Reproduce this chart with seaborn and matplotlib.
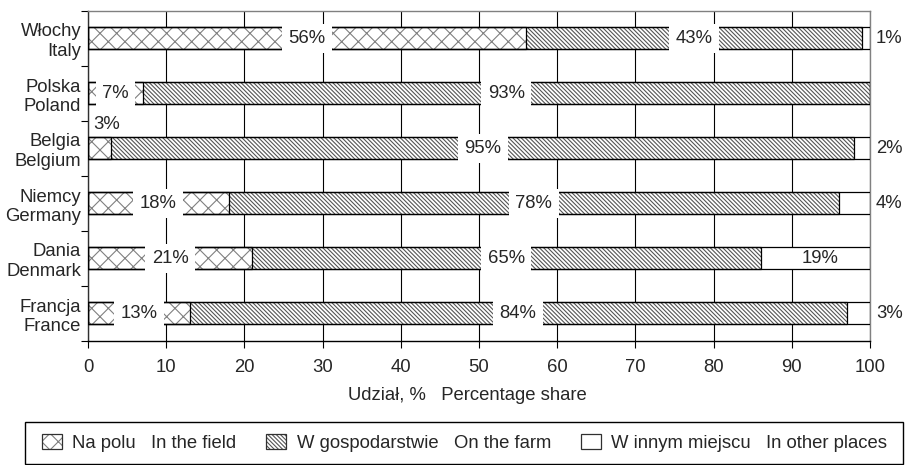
import matplotlib
matplotlib.use("Agg")
import matplotlib.pyplot as plt
import matplotlib.patches as mpatches
import matplotlib.colors as mcolors
import numpy as np
import pandas as pd
import seaborn as sns

COUNTRIES = ["Włochy\nItaly", "Polska\nPoland", "Belgia\nBelgium",
             "Niemcy\nGermany", "Dania\nDenmark", "Francja\nFrance"]
FIELD = [56, 7, 3, 18, 21, 13]
FARM = [43, 93, 95, 78, 65, 84]
OTHER = [1, 0, 2, 4, 14, 3]
OTHER_LABELS = ["1%", "", "2%", "4%", "19%", "3%"]
SERIES = ["Na polu   In the field",
          "W gospodarstwie   On the farm",
          "W innym miejscu   In other places"]
XLABEL = "Udział, %   Percentage share"
XTICKS = list(range(0, 101, 10))

FIELD_HATCH = "xx"
FARM_HATCH = "\\" * 8
FIELD_HC = "#808080"
FARM_HC = "#555555"

sns.set_style("white")
plt.rcParams["font.family"] = ["Liberation Sans", "DejaVu Sans"]
plt.rcParams["hatch.linewidth"] = 0.8
FS = 13.3

df = pd.DataFrame({"country": COUNTRIES, "field": FIELD, "farm": FARM, "other": OTHER})
df["to_farm"] = df["field"] + df["farm"]
df["total"] = df["to_farm"] + df["other"]

fig, ax = plt.subplots(figsize=(9.07, 4.65), dpi=100)
fig.subplots_adjust(left=88 / 907, right=870 / 907, top=1 - 11 / 465, bottom=1 - 341 / 465)

# filled / hatched layers, drawn back to front
layers = [("total", None, "white"), ("to_farm", FARM_HATCH, FARM_HC), ("field", FIELD_HATCH, FIELD_HC)]
for col, hatch, hc in layers:
    sns.barplot(data=df, x=col, y="country", order=COUNTRIES, orient="h",
                color="white", saturation=1, width=0.4, errorbar=None,
                hatch=hatch, edgecolor=hc, linewidth=0, ax=ax, zorder=2)
# black outlines
for col in ["total", "to_farm", "field"]:
    sns.barplot(data=df, x=col, y="country", order=COUNTRIES, orient="h",
                color="black", fill=False, width=0.4, errorbar=None,
                linewidth=0.9, ax=ax, zorder=3)

# value labels
box = dict(boxstyle="square,pad=0.35", facecolor="white", edgecolor="none")
for i, row in df.iterrows():
    if row["field"] < 5:
        ax.annotate(f"{row['field']}%", xy=(row["field"] / 2, i), xytext=(7, 24),
                    textcoords="offset pixels", ha="center", va="center",
                    fontsize=FS, annotation_clip=False, zorder=5)
    else:
        ax.text(row["field"] / 2, i, f"{row['field']}%", ha="center", va="center",
                fontsize=FS, bbox=box, zorder=5)
    ax.text(row["field"] + row["farm"] / 2, i, f"{row['farm']}%", ha="center",
            va="center", fontsize=FS, bbox=box, zorder=5)
    lab = OTHER_LABELS[i]
    if lab and row["other"] < 5:
        ax.annotate(lab, xy=(row["total"], i), xytext=(6, 0), textcoords="offset pixels",
                    ha="left", va="center", fontsize=FS, annotation_clip=False, zorder=5)
    elif lab:
        ax.annotate(lab, xy=(row["to_farm"] + row["other"] / 2, i), xytext=(5, 0),
                    textcoords="offset pixels", ha="center", va="center",
                    fontsize=FS, zorder=5)

# axes styling
ax.set_xlim(0, 100)
ax.set_ylim(len(COUNTRIES) - 0.5, -0.5)
ax.set_xticks(XTICKS)
ax.set_yticks(np.arange(-0.5, len(COUNTRIES), 1), minor=True)
ax.set_axisbelow(True)
ax.grid(axis="x", color="black", linewidth=0.8)
ax.grid(axis="y", visible=False)
ax.set_xlabel(XLABEL, fontsize=FS, labelpad=8)
ax.xaxis.label.set_x(0.485)
ax.set_ylabel("")
ax.tick_params(axis="x", bottom=True, length=5, width=0.8, direction="out",
               labelsize=FS, pad=8, color="black")
ax.tick_params(axis="y", which="major", left=False, length=0, labelsize=FS, pad=5)
ax.tick_params(axis="y", which="minor", left=True, length=5, width=0.8,
               direction="out", color="black")
for side in ["top", "right"]:
    ax.spines[side].set_color("#808080")
    ax.spines[side].set_linewidth(1.0)
ax.spines["left"].set_color("#303030")
ax.spines["bottom"].set_color("black")
for side in ["left", "bottom"]:
    ax.spines[side].set_linewidth(1.0)

# legend: frame drawn separately so the entries can sit further in
frame = mpatches.Rectangle((25 / 907, 1 - 464 / 465), 878 / 907, 42 / 465,
                           transform=fig.transFigure, fill=False,
                           edgecolor="black", linewidth=1.0)
fig.patches.append(frame)
handles = [
    mpatches.Patch(facecolor="white", edgecolor="#303030", hatch=FIELD_HATCH, linewidth=0.9),
    mpatches.Patch(facecolor="white", edgecolor="#303030", hatch=FARM_HATCH, linewidth=0.9),
    mpatches.Patch(facecolor="white", edgecolor="#303030", linewidth=0.9),
]
leg = fig.legend(handles, SERIES, loc="center", ncol=3, mode="expand",
                 bbox_to_anchor=(42 / 907, 1 - 464 / 465, 845 / 907, 42 / 465),
                 fontsize=FS, frameon=False, handlelength=1.1, handleheight=0.85,
                 handletextpad=0.55, borderpad=0, borderaxespad=0)
for h, hc in zip(leg.legend_handles, [FIELD_HC, FARM_HC, None]):
    if hc is not None:
        h._hatch_color = mcolors.to_rgba(hc)

fig.savefig("out.png", dpi=100)
plt.close(fig)
